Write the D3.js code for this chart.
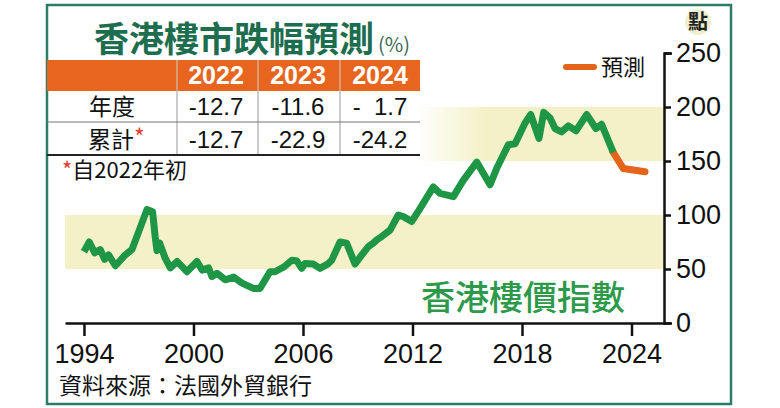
<!DOCTYPE html>
<html>
<head>
<meta charset="utf-8">
<script src="https://cdn.jsdelivr.net/npm/d3@7"></script>
<style>
  html, body { margin: 0; padding: 0; background: #fff; }
  .vis { width: 780px; height: 408px; }
  text { font-family: "Liberation Sans", "Noto Sans CJK TC", sans-serif; }
  .cjk { font-family: "Noto Sans CJK TC", sans-serif; }
  .axis text { font-family: "Liberation Sans", sans-serif; font-size: 27px; fill: #111; }
  .axis path, .axis line { stroke: #111; stroke-width: 2.5; }
</style>
</head>
<body>
<div class="vis"></div>
<script>
(function() {
  'use strict';

  // index history
  var histYears = [1994.0, 1994.29, 1994.59, 1994.89, 1995.13, 1995.35, 1995.72, 1996.26, 1996.63,
    1997.03, 1997.45, 1997.76, 1997.9, 1998.0, 1998.15, 1998.45, 1998.73, 1999.1, 1999.64,
    2000.19, 2000.47, 2000.83, 2001.01, 2001.29, 2001.74, 2002.2, 2002.66, 2003.28, 2003.64,
    2004.19, 2004.47, 2004.74, 2004.96, 2005.38, 2005.65, 2005.93, 2006.11, 2006.56, 2006.93,
    2007.39, 2007.57, 2008.03, 2008.39, 2008.85, 2009.22, 2009.58, 2009.85, 2010.04, 2010.31,
    2010.77, 2011.22, 2011.5, 2011.96, 2012.41, 2013.14, 2013.51, 2014.24, 2014.78, 2015.52,
    2016.25, 2016.61, 2017.25, 2017.62, 2018.16, 2018.48, 2018.93, 2019.19, 2019.53, 2019.81,
    2020.17, 2020.54, 2020.96, 2021.55, 2022.05, 2022.36, 2023.0];
  var histValues = [66, 75, 65, 68, 59, 63, 53, 63, 68,
    86, 105, 103, 80, 67, 74, 60, 51, 57, 47.5,
    57, 49, 51, 43, 46, 40, 42.5, 37, 32, 32,
    47.5, 47.5, 50, 52, 58, 57.7, 50.6, 55, 54.6, 50.6,
    55, 58, 75, 74, 54.6, 63, 70.7, 74, 77, 80,
    86, 100, 98.5, 94, 106, 126, 120, 117, 132, 149,
    128, 143, 165, 166, 185, 193, 171, 195, 190, 180,
    177, 182.5, 178, 193, 180, 184, 158];

  // forecast
  var fcYears = [2023.0, 2023.55, 2024.74];
  var fcValues = [158, 143, 140];

  var xTicks = [1994, 2000, 2006, 2012, 2018, 2024];
  var yTicks = [0, 50, 100, 150, 200, 250];
  var bands = [[150, 200], [50, 100]];

  // table
  var tableYears = ['2022', '2023', '2024'];
  var annual = ['-12.7', '-11.6', '-  1.7'];
  var cumulative = ['-12.7', '-22.9', '-24.2'];

  var green = '#1f9646',
    orange = '#e4641c',
    band = '#f4f1c8';

  var svg = d3.select('.vis').append('svg')
    .attr('width', 780)
    .attr('height', 408);

  var defs = svg.append('defs');
  var grad = defs.append('linearGradient')
    .attr('id', 'bandFade')
    .attr('gradientUnits', 'userSpaceOnUse')
    .attr('x1', 415).attr('x2', 485)
    .attr('y1', 0).attr('y2', 0);
  grad.append('stop').attr('offset', 0).attr('stop-color', band).attr('stop-opacity', 0);
  grad.append('stop').attr('offset', 1).attr('stop-color', band).attr('stop-opacity', 1);

  var x = d3.scaleLinear().domain([1992.96, 2025.78]).range([65, 664]);
  var y = d3.scaleLinear().domain([0, 250]).range([323, 53]);

  // frame
  svg.append('rect')
    .attr('x', 47).attr('y', 5)
    .attr('width', 684).attr('height', 399)
    .attr('fill', '#fff')
    .attr('stroke', '#2b7d67')
    .attr('stroke-width', 2.5);

  // shaded bands
  svg.selectAll('.band')
    .data(bands)
    .enter()
    .append('rect')
      .attr('class', 'band')
      .attr('x', x.range()[0])
      .attr('width', x.range()[1] - x.range()[0])
      .attr('y', function(d) { return y(d[1]); })
      .attr('height', function(d) { return y(d[0]) - y(d[1]); })
      .attr('fill', function(d, i) { return i === 0 ? 'url(#bandFade)' : band; });

  // axes
  svg.append('g')
    .attr('class', 'axis')
    .attr('transform', 'translate(0,' + y(0) + ')')
    .call(d3.axisBottom(x).tickValues(xTicks).tickFormat(d3.format('d'))
      .tickSize(13).tickSizeOuter(0).tickPadding(8));

  svg.append('g')
    .attr('class', 'axis')
    .attr('transform', 'translate(' + x.range()[1] + ',0)')
    .call(d3.axisRight(y).tickValues(yTicks).tickSize(7).tickSizeOuter(8).tickPadding(5));

  // lines
  var line = d3.line()
    .x(function(d) { return x(d[0]); })
    .y(function(d) { return y(d[1]); });

  var hist = d3.zip(histYears, histValues);
  var fc = d3.zip(fcYears, fcValues);

  svg.append('path')
    .datum(fc)
    .attr('d', line)
    .attr('fill', 'none')
    .attr('stroke', orange)
    .attr('stroke-width', 7)
    .attr('stroke-linecap', 'round')
    .attr('stroke-linejoin', 'round');

  svg.append('path')
    .datum(hist)
    .attr('d', line)
    .attr('fill', 'none')
    .attr('stroke', green)
    .attr('stroke-width', 7)
    .attr('stroke-linejoin', 'round');

  // title
  var title = svg.append('text')
    .attr('class', 'cjk')
    .attr('x', 94).attr('y', 52);
  title.append('tspan')
    .attr('font-size', 35).attr('font-weight', 700).attr('fill', '#1d6d4f')
    .text('香港樓市跌幅預測');
  title.append('tspan')
    .attr('dx', 4)
    .attr('font-size', 20).attr('fill', '#3c6a58')
    .text('(%)');

  // table
  var colX = [177, 258, 340, 420],
    colMid = [216, 298, 380];

  svg.append('rect')
    .attr('x', 47).attr('y', 60)
    .attr('width', 373).attr('height', 31)
    .attr('fill', '#e8651f');

  svg.selectAll('.col-sep')
    .data(colX.slice(0, 3))
    .enter()
    .append('line')
      .attr('class', 'col-sep')
      .attr('x1', function(d) { return d; })
      .attr('x2', function(d) { return d; })
      .attr('y1', 60).attr('y2', 155)
      .attr('stroke', '#999')
      .attr('stroke-width', 1);

  svg.selectAll('.col-sep-head')
    .data(colX.slice(0, 3))
    .enter()
    .append('line')
      .attr('x1', function(d) { return d; })
      .attr('x2', function(d) { return d; })
      .attr('y1', 60).attr('y2', 91)
      .attr('stroke', '#f6b58f')
      .attr('stroke-width', 1);

  svg.append('line')
    .attr('x1', 47).attr('x2', 420)
    .attr('y1', 122).attr('y2', 122)
    .attr('stroke', '#777').attr('stroke-width', 1.2);

  svg.append('line')
    .attr('x1', 47).attr('x2', 420)
    .attr('y1', 155).attr('y2', 155)
    .attr('stroke', '#222').attr('stroke-width', 2);

  svg.selectAll('.head')
    .data(tableYears)
    .enter()
    .append('text')
      .attr('x', function(d, i) { return colMid[i]; })
      .attr('y', 84)
      .attr('text-anchor', 'middle')
      .attr('font-size', 25)
      .attr('font-weight', 700)
      .attr('fill', '#fff')
      .text(function(d) { return d; });

  [annual, cumulative].forEach(function(row, r) {
    svg.selectAll('.row' + r)
      .data(row)
      .enter()
      .append('text')
        .attr('x', function(d, i) { return colMid[i]; })
        .attr('y', r === 0 ? 115 : 148)
        .attr('text-anchor', 'middle')
        .attr('font-size', 24)
        .attr('fill', '#111')
        .style('white-space', 'pre')
        .text(function(d) { return d; });
  });

  svg.append('text')
    .attr('class', 'cjk')
    .attr('x', 112).attr('y', 115)
    .attr('text-anchor', 'middle')
    .attr('font-size', 23)
    .attr('fill', '#111')
    .text('年度');

  var cum = svg.append('text')
    .attr('class', 'cjk')
    .attr('x', 88).attr('y', 148)
    .attr('font-size', 23)
    .attr('fill', '#111');
  cum.append('tspan').text('累計');
  cum.append('tspan').attr('fill', '#e53a2e').attr('dy', -2).text('*');

  var note = svg.append('text')
    .attr('class', 'cjk')
    .attr('x', 62).attr('y', 178)
    .attr('font-size', 22)
    .attr('fill', '#111');
  note.append('tspan').attr('fill', '#e53a2e').text('*');
  note.append('tspan').text('自2022年初');

  // legend
  svg.append('line')
    .attr('x1', 566).attr('x2', 594)
    .attr('y1', 67).attr('y2', 67)
    .attr('stroke', orange)
    .attr('stroke-width', 6)
    .attr('stroke-linecap', 'round');

  svg.append('text')
    .attr('class', 'cjk')
    .attr('x', 601).attr('y', 75)
    .attr('font-size', 22)
    .attr('fill', '#111')
    .text('預測');

  // unit badge
  svg.append('circle')
    .attr('cx', 698).attr('cy', 22).attr('r', 13)
    .attr('fill', '#eef1cb');

  svg.append('text')
    .attr('class', 'cjk')
    .attr('x', 698).attr('y', 29)
    .attr('text-anchor', 'middle')
    .attr('font-size', 20)
    .attr('font-weight', 700)
    .attr('fill', '#222')
    .text('點');

  // series label
  svg.append('text')
    .attr('class', 'cjk')
    .attr('x', 421).attr('y', 310)
    .attr('font-size', 34)
    .attr('font-weight', 500)
    .attr('fill', '#2c9a4a')
    .text('香港樓價指數');

  // source
  svg.append('text')
    .attr('class', 'cjk')
    .attr('x', 59).attr('y', 394)
    .attr('font-size', 23)
    .attr('fill', '#111')
    .text('資料來源：法國外貿銀行');

}());
</script>
</body>
</html>
